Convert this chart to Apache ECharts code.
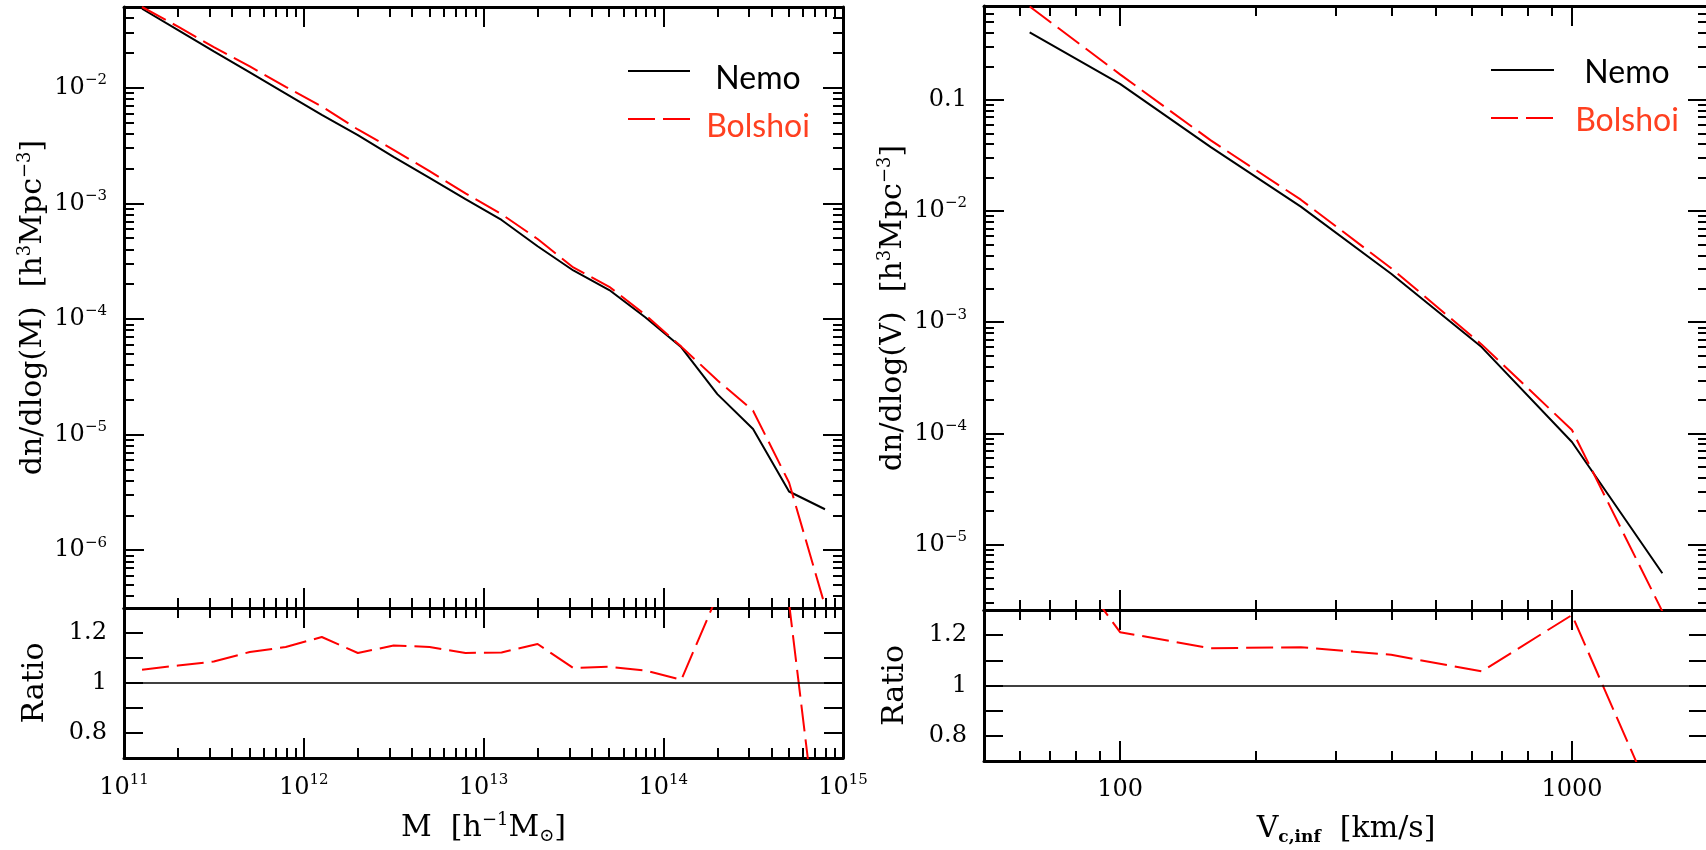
<!DOCTYPE html>
<html>
<head>
<meta charset="utf-8">
<script src="https://cdn.jsdelivr.net/npm/echarts@6/dist/echarts.min.js"></script>
<style>
html,body{margin:0;padding:0;background:#fff;}
#chart{width:1706px;height:850px;}
</style>
</head>
<body>
<div id="chart"></div>
<script>
// ---------------- DATA ----------------
// Left panel: halo mass function, bins in M [h^-1 Msun]
const massBins = [1.26e11, 2.00e11, 3.16e11, 5.01e11, 7.94e11, 1.26e12, 2.00e12, 3.16e12, 5.01e12, 7.94e12,
                  1.26e13, 2.00e13, 3.16e13, 5.01e13, 7.94e13, 1.26e14, 2.00e14, 3.16e14, 5.01e14, 7.94e14];
const nemoMassFn = [4.83e-2, 3.16e-2, 2.07e-2, 1.36e-2, 8.9e-3, 5.83e-3, 3.89e-3, 2.53e-3, 1.66e-3, 1.09e-3,
                    7.19e-4, 4.26e-4, 2.63e-4, 1.78e-4, 1.035e-4, 5.69e-5, 2.24e-5, 1.117e-5, 3.22e-6, 2.26e-6];
const bolshoiMassFn = [5.0e-2, 3.38e-2, 2.25e-2, 1.53e-2, 1.02e-2, 6.9e-3, 4.36e-3, 2.91e-3, 1.90e-3, 1.22e-3,
                       8.07e-4, 4.92e-4, 2.79e-4, 1.90e-4, 1.087e-4, 5.77e-5, 2.95e-5, 1.61e-5, 3.85e-6, 3.3e-7];
const bolshoiMassRatio = [1.053, 1.07, 1.086, 1.124, 1.144, 1.184, 1.12, 1.15, 1.144, 1.12,
                          1.122, 1.156, 1.06, 1.065, 1.05, 1.013, 1.35, 1.44, 1.32, 0.13];

// Right panel: velocity function, bins in V_c,inf [km/s]
const velBins = [63.1, 100, 158.5, 251.2, 398.1, 631.0, 1000, 1585];
const nemoVelFn = [0.4055, 0.1393, 3.784e-2, 1.096e-2, 2.73e-3, 5.97e-4, 8.36e-5, 5.5e-6];
const bolshoiVelFn = [0.693, 0.1698, 4.345e-2, 1.265e-2, 3.06e-3, 6.31e-4, 1.07e-4, 2.5e-6];
const bolshoiVelRatio = [1.70, 1.212, 1.148, 1.152, 1.122, 1.056, 1.28, 0.46];

// Tick values / labels
const massTicks = [1e11, 1e12, 1e13, 1e14, 1e15];
const massFnTicks = [1e-6, 1e-5, 1e-4, 1e-3, 1e-2];
const velTicks = [100, 1000];
const velFnTicks = [1e-5, 1e-4, 1e-3, 1e-2, 0.1];
const ratioTicks = [0.8, 0.9, 1.0, 1.1, 1.2];
const ratioTickLabels = [0.8, 1, 1.2];
const legendNames = ['Nemo', 'Bolshoi'];

// ---------------- BUILD ----------------
const L = Math.log10;
const SERIF = "'DejaVu Serif', 'Liberation Serif', serif";
const SANS = "Lato, 'Noto Sans', sans-serif";
const RED = '#ff0000';
const LEGEND_RED = '#ff4020';
const DASH = [27, 8];

function minorLogTicks(lo, hi) {
  const out = [];
  for (let n = Math.floor(lo) - 1; n <= Math.ceil(hi); n++) {
    for (let k = 2; k <= 9; k++) {
      const v = n + Math.log10(k);
      if (v >= lo - 1e-9 && v <= hi + 1e-9) out.push(v);
    }
  }
  return out;
}
function supStr(e) { return e < 0 ? '−' + (-e) : String(e); }
const powFmt = v => { const e = Math.round(v); return '{b|10}{s|' + supStr(e) + '}'; };
const plainLogFmt = v => { const e = Math.round(v); return '{b|' + Math.pow(10, e).toString() + '}'; };
const velFnFmt = v => { const e = Math.round(v); return e === -1 ? '{b|0.1}' : powFmt(v); };
const ratioFmt = v => '{b|' + (+v.toFixed(1)) + '}';

const labelRich = {
  b: {fontFamily: SERIF, fontSize: 24, color: '#000', lineHeight: 30, verticalAlign: 'middle'},
  s: {fontFamily: SERIF, fontSize: 15, color: '#000', lineHeight: 15, verticalAlign: 'top'}
};
const nameRich = {
  s: {fontFamily: SERIF, fontSize: 18, color: '#000', lineHeight: 18, verticalAlign: 'top'},
  u: {fontFamily: SERIF, fontSize: 18, color: '#000', lineHeight: 14, verticalAlign: 'bottom'},
  ub: {fontFamily: SERIF, fontSize: 17, fontWeight: 'bold', color: '#000', lineHeight: 10, verticalAlign: 'bottom'}
};

function axisObj(o) {
  const a = {
    type: 'value', gridIndex: o.grid, position: o.pos, min: o.range[0], max: o.range[1],
    silent: true,
    axisLine: {show: !!o.line, onZero: false, lineStyle: {color: '#000', width: 3}},
    axisTick: {show: true, inside: true, length: o.len, customValues: o.ticks, lineStyle: {color: '#000', width: 2}},
    axisLabel: {show: false},
    splitLine: {show: false},
    minorTick: {show: false},
    axisPointer: {show: false}
  };
  if (o.labels) {
    a.axisLabel = {show: true, customValues: o.labels, formatter: o.fmt, margin: o.margin,
                   color: '#000', fontFamily: SERIF, fontSize: 24, rich: labelRich};
  }
  if (o.name) {
    a.name = o.name;
    a.nameLocation = 'middle';
    a.nameGap = o.nameGap;
    if (o.nameRotate !== undefined) a.nameRotate = o.nameRotate;
    a.nameTextStyle = {fontFamily: SERIF, fontSize: 30, color: '#000', lineHeight: 34, rich: nameRich};
  }
  return a;
}

const xAxes = [], yAxes = [];
function buildGrid(g, xr, yr, xMaj, xMin, yMaj, yMin, opt) {
  xAxes.push(axisObj({grid: g, pos: 'bottom', range: xr, ticks: xMaj, len: 20, line: true,
    labels: opt.xLabels ? xMaj : null, fmt: opt.xFmt, margin: opt.xMargin, name: opt.xName, nameGap: opt.xNameGap}));
  const xi = xAxes.length - 1;
  xAxes.push(axisObj({grid: g, pos: 'bottom', range: xr, ticks: xMin, len: 10}));
  xAxes.push(axisObj({grid: g, pos: 'top', range: xr, ticks: xMaj, len: 20, line: true}));
  xAxes.push(axisObj({grid: g, pos: 'top', range: xr, ticks: xMin, len: 10}));
  yAxes.push(axisObj({grid: g, pos: 'left', range: yr, ticks: yMaj, len: opt.yLen || 20, line: true,
    labels: opt.yLabels, fmt: opt.yFmt, margin: 17, name: opt.yName, nameGap: opt.yNameGap, nameRotate: 90}));
  const yi = yAxes.length - 1;
  if (yMin.length) yAxes.push(axisObj({grid: g, pos: 'left', range: yr, ticks: yMin, len: 10}));
  yAxes.push(axisObj({grid: g, pos: 'right', range: yr, ticks: yMaj, len: opt.yLen || 20, line: true}));
  if (yMin.length) yAxes.push(axisObj({grid: g, pos: 'right', range: yr, ticks: yMin, len: 10}));
  return {xi, yi};
}

const grids = [
  {left: 124, top: 7, width: 719, height: 601, outerBoundsMode: 'none', containLabel: false},
  {left: 124, top: 608, width: 719, height: 150, outerBoundsMode: 'none', containLabel: false},
  {left: 984, top: 6, width: 724, height: 604, outerBoundsMode: 'none', containLabel: false},
  {left: 984, top: 610, width: 724, height: 151, outerBoundsMode: 'none', containLabel: false}
];

const mX = [L(1e11), L(1e15)];
const mMaj = massTicks.map(L), mMin = minorLogTicks(mX[0], mX[1]);
const mY = [-6.5, L(0.05)];
const vX = [L(50), L(2000)];
const vMaj = velTicks.map(L), vMin = minorLogTicks(vX[0], vX[1]);
const vY = [-5.59, L(0.7)];
const rY = [0.7, 1.3];

const gLM = buildGrid(0, mX, mY, mMaj, mMin, massFnTicks.map(L), minorLogTicks(mY[0], mY[1]),
  {yLabels: massFnTicks.map(L), yFmt: powFmt, yName: 'dn/dlog(M)  [h{s|3}Mpc{s|−3}]', yNameGap: 72});
const gLR = buildGrid(1, mX, rY, mMaj, mMin, ratioTicks, [],
  {xLabels: true, xFmt: powFmt, xMargin: 15, xName: 'M  [h{s|−1}M{u|⊙}]', xNameGap: 53,
   yLen: 19, yLabels: ratioTickLabels, yFmt: ratioFmt, yName: 'Ratio', yNameGap: 72});
const gRM = buildGrid(2, vX, vY, vMaj, vMin, velFnTicks.map(L), minorLogTicks(vY[0], vY[1]),
  {yLabels: velFnTicks.map(L), yFmt: velFnFmt, yName: 'dn/dlog(V)  [h{s|3}Mpc{s|−3}]', yNameGap: 71});
const gRR = buildGrid(3, vX, rY, vMaj, vMin, ratioTicks, [],
  {xLabels: true, xFmt: plainLogFmt, xMargin: 14, xName: 'V{ub|c,inf}  [km/s]', xNameGap: 51,
   yLen: 19, yLabels: ratioTickLabels, yFmt: ratioFmt, yName: 'Ratio', yNameGap: 72});

function lineSeries(name, idx, xs, ys, color, dashed, logY) {
  return {
    type: 'line', name: name, xAxisIndex: idx.xi, yAxisIndex: idx.yi,
    data: xs.map((x, i) => [L(x), logY ? L(ys[i]) : ys[i]]),
    symbol: 'none', showSymbol: false, clip: true, silent: true, animation: false,
    lineStyle: {color: color, width: 2, type: dashed ? DASH : 'solid'},
    itemStyle: {color: color}, z: 3
  };
}
const unityLine = {
  silent: true, symbol: 'none', animation: false, label: {show: false},
  lineStyle: {color: '#000', width: 1.5, type: 'solid'},
  data: [{yAxis: 1}]
};

const series = [
  lineSeries(legendNames[0], gLM, massBins, nemoMassFn, '#000', false, true),
  lineSeries(legendNames[1], gLM, massBins, bolshoiMassFn, RED, true, true),
  Object.assign(lineSeries(legendNames[1] + ' ratio', gLR, massBins, bolshoiMassRatio, RED, true, false), {markLine: unityLine}),
  lineSeries(legendNames[0], gRM, velBins, nemoVelFn, '#000', false, true),
  lineSeries(legendNames[1], gRM, velBins, bolshoiVelFn, RED, true, true),
  Object.assign(lineSeries(legendNames[1] + ' ratio', gRR, velBins, bolshoiVelRatio, RED, true, false), {markLine: unityLine})
];

function legendGraphics(lineX1, lineX2, yBlack, yRed, textX, tyBlack, tyRed) {
  return [
    {type: 'line', silent: true, shape: {x1: lineX1, y1: yBlack, x2: lineX2, y2: yBlack}, style: {stroke: '#000', lineWidth: 2}},
    {type: 'line', silent: true, shape: {x1: lineX1, y1: yRed, x2: lineX2, y2: yRed}, style: {stroke: RED, lineWidth: 2, lineDash: DASH}},
    {type: 'text', silent: true, x: textX, y: tyBlack, style: {text: legendNames[0], fill: '#000', font: '32px ' + SANS, fontSize: 32, fontFamily: SANS, align: 'center', verticalAlign: 'middle', textAlign: 'center', textVerticalAlign: 'middle'}},
    {type: 'text', silent: true, x: textX, y: tyRed, style: {text: legendNames[1], fill: LEGEND_RED, font: '32px ' + SANS, fontSize: 32, fontFamily: SANS, align: 'center', verticalAlign: 'middle', textAlign: 'center', textVerticalAlign: 'middle'}}
  ];
}

const option = {
  animation: false,
  backgroundColor: '#fff',
  grid: grids,
  xAxis: xAxes,
  yAxis: yAxes,
  series: series,
  graphic: legendGraphics(628, 690, 71, 119, 758, 78.5, 127)
    .concat(legendGraphics(1491, 1554, 70, 118, 1627, 72.5, 120.5))
};

const chart = echarts.init(document.getElementById('chart'), null, {renderer: 'canvas'});
chart.setOption(option);
</script>
</body>
</html>
